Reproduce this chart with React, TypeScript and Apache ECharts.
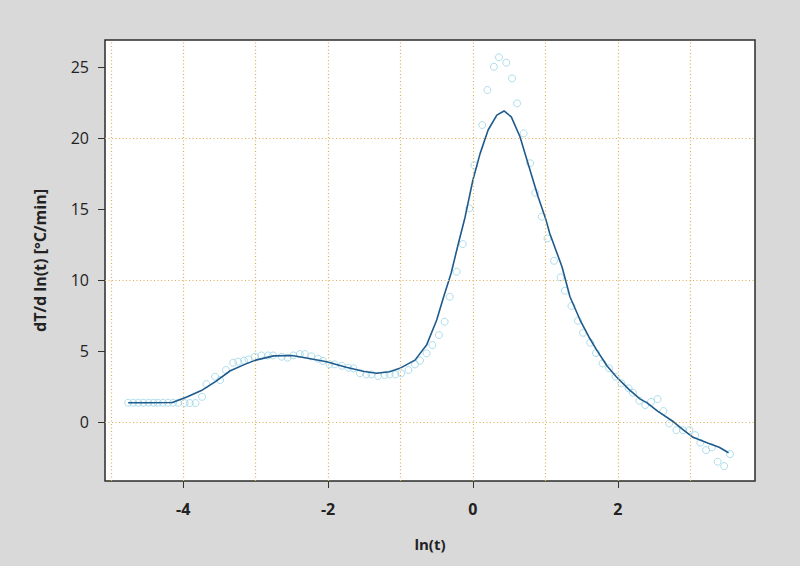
import React, { useEffect, useRef } from "react";
import * as echarts from "echarts";

// Observed points (ln(t), dT/d ln(t))
const pointX = [
  -4.76, -4.69, -4.62, -4.55, -4.48, -4.41, -4.35, -4.28, -4.21, -4.14, -4.07,
  -3.98, -3.91, -3.83, -3.74, -3.68, -3.56, -3.49, -3.41, -3.31, -3.24, -3.16,
  -3.1, -3.01, -2.92, -2.83, -2.76, -2.64, -2.56, -2.48, -2.39, -2.32, -2.23,
  -2.14, -2.07, -1.98, -1.91, -1.81, -1.72, -1.65, -1.56, -1.47, -1.4, -1.31,
  -1.22, -1.15, -1.07, -0.99, -0.89, -0.8, -0.73, -0.64, -0.56, -0.47, -0.39,
  -0.32, -0.225, -0.14, -0.05, 0.02, 0.13, 0.2, 0.29, 0.36, 0.46, 0.54, 0.61,
  0.7, 0.79, 0.86, 0.95, 1.03, 1.12, 1.21, 1.27, 1.36, 1.45, 1.52, 1.62, 1.7,
  1.79, 1.88, 1.97, 2.05, 2.15, 2.21, 2.3, 2.38, 2.46, 2.55, 2.63, 2.71, 2.81,
  2.9, 2.99, 3.07, 3.14, 3.22, 3.3, 3.38, 3.47, 3.55,
];
const pointY = [
  1.34, 1.34, 1.34, 1.34, 1.34, 1.34, 1.34, 1.34, 1.34, 1.34, 1.34,
  1.32, 1.32, 1.32, 1.76, 2.66, 3.18, 2.94, 3.65, 4.17, 4.24, 4.31,
  4.4, 4.59, 4.68, 4.68, 4.68, 4.59, 4.52, 4.68, 4.78, 4.78, 4.62,
  4.45, 4.3, 4.06, 4.05, 3.95, 3.81, 3.77, 3.42, 3.34, 3.34, 3.23,
  3.3, 3.34, 3.34, 3.42, 3.65, 4.05, 4.31, 4.83, 5.41, 6.12, 7.06,
  8.82, 10.59, 12.54, 15.06, 18.1, 20.94, 23.41, 25.05, 25.72, 25.34, 24.23, 22.47,
  20.35, 18.24, 16.16, 14.47, 12.94, 11.36, 10.19, 9.25, 8.17, 7.13, 6.28, 5.58, 4.85,
  4.12, 3.77, 3.18, 2.71, 2.36, 2.05, 1.48, 1.18, 1.41, 1.6, 0.76, -0.12, -0.59,
  -0.59, -0.59, -0.94, -1.48, -2.0, -1.81, -2.82, -3.13, -2.28,
];

// Smoothed curve
const curveX = [
  -4.76, -4.5, -4.15, -3.95, -3.75, -3.55, -3.35, -3.15, -3.0, -2.75, -2.5,
  -2.3, -2.02, -1.75, -1.5, -1.33, -1.15, -1.01, -0.8, -0.64, -0.5, -0.41,
  -0.3, -0.2, -0.11, 0.0, 0.1, 0.21, 0.33, 0.43, 0.53, 0.65, 0.76, 0.9, 1.01,
  1.06, 1.23, 1.34, 1.48, 1.6, 1.71, 1.85, 1.98, 2.15, 2.31, 2.4, 2.55, 2.77,
  2.9, 3.04, 3.25, 3.4, 3.53,
];
const curveY = [
  1.34, 1.34, 1.36, 1.75, 2.2, 2.85, 3.6, 4.05, 4.35, 4.65, 4.68,
  4.5, 4.24, 3.85, 3.55, 3.42, 3.53, 3.77, 4.35, 5.41, 7.18, 8.71,
  10.5, 12.6, 14.4, 17.06, 18.94, 20.59, 21.64, 21.93, 21.52, 20.11, 18.24, 15.88, 14.23,
  13.3, 10.94, 8.82, 7.18, 6.0, 5.06, 3.95, 3.18, 2.3, 1.6, 1.35, 0.75, 0.0,
  -0.55, -1.1, -1.52, -1.8, -2.19,
];

const xTickValues = [-4, -2, 0, 2];
const yTickValues = [0, 5, 10, 15, 20, 25];
const xGridValues = [-5, -4, -3, -2, -1, 0, 1, 2, 3];
const yGridValues = [0, 10, 20];

export default function App() {
  const ref = useRef<HTMLDivElement>(null);

  useEffect(() => {
    if (!ref.current) return;
    const chart = echarts.init(ref.current, undefined, { renderer: "svg" });
    const gridColor = "#e0ae55";
    const font = "'Open Sans', 'Noto Sans', sans-serif";
    chart.setOption({
      animation: false,
      backgroundColor: "#d9d9d9",
      grid: {
        left: 105,
        top: 40,
        right: 45,
        bottom: 85,
        show: true,
        backgroundColor: "#ffffff",
        borderColor: "#2b2b2b",
        borderWidth: 1.5,
      },
      xAxis: {
        type: "value",
        min: -5.08,
        max: 3.895,
        name: "ln(t)",
        nameLocation: "middle",
        nameGap: 55,
        nameTextStyle: { fontFamily: font, fontSize: 15, fontWeight: "bold", color: "#222" },
        axisLine: { show: false, onZero: false },
        splitLine: { show: false },
        axisTick: {
          show: true,
          customValues: xTickValues,
          length: 7,
          lineStyle: { color: "#333", width: 1 },
        },
        axisLabel: {
          customValues: xTickValues,
          margin: 20,
          fontFamily: font,
          fontSize: 16,
          fontWeight: "bold",
          color: "#222",
        },
      },
      yAxis: {
        type: "value",
        min: -4.18,
        max: 26.94,
        name: "dT/d ln(t) [°C/min]",
        nameLocation: "middle",
        nameGap: 57,
        nameTextStyle: { fontFamily: font, fontSize: 16, fontWeight: "bold", color: "#222" },
        axisLine: { show: false, onZero: false },
        splitLine: { show: false },
        axisTick: {
          show: true,
          customValues: yTickValues,
          length: 7,
          lineStyle: { color: "#333", width: 1 },
        },
        axisLabel: {
          customValues: yTickValues,
          margin: 16,
          fontFamily: font,
          fontSize: 16,
          color: "#222",
        },
      },
      series: [
        {
          type: "line",
          data: [],
          z: 1,
          markLine: {
            silent: true,
            symbol: ["none", "none"],
            label: { show: false },
            lineStyle: { color: gridColor, type: [1, 2.5], width: 1.2 },
            data: [
              ...xGridValues.map((v) => ({ xAxis: v })),
              ...yGridValues.map((v) => ({ yAxis: v })),
            ],
          },
        },
        {
          type: "scatter",
          data: pointX.map((x, i) => [x, pointY[i]]),
          symbol: "circle",
          symbolSize: 7,
          itemStyle: { color: "rgba(255,255,255,0)", borderColor: "#9ad4e6", borderWidth: 1 },
          z: 2,
        },
        {
          type: "line",
          data: curveX.map((x, i) => [x, curveY[i]]),
          showSymbol: false,
          symbol: "none",
          lineStyle: { color: "#1f5a8c", width: 1.6 },
          z: 3,
        },
      ],
    });
    return () => chart.dispose();
  }, []);

  return (
    <div
      ref={ref}
      style={{ position: "fixed", left: 0, top: 0, width: 800, height: 566 }}
    />
  );
}
